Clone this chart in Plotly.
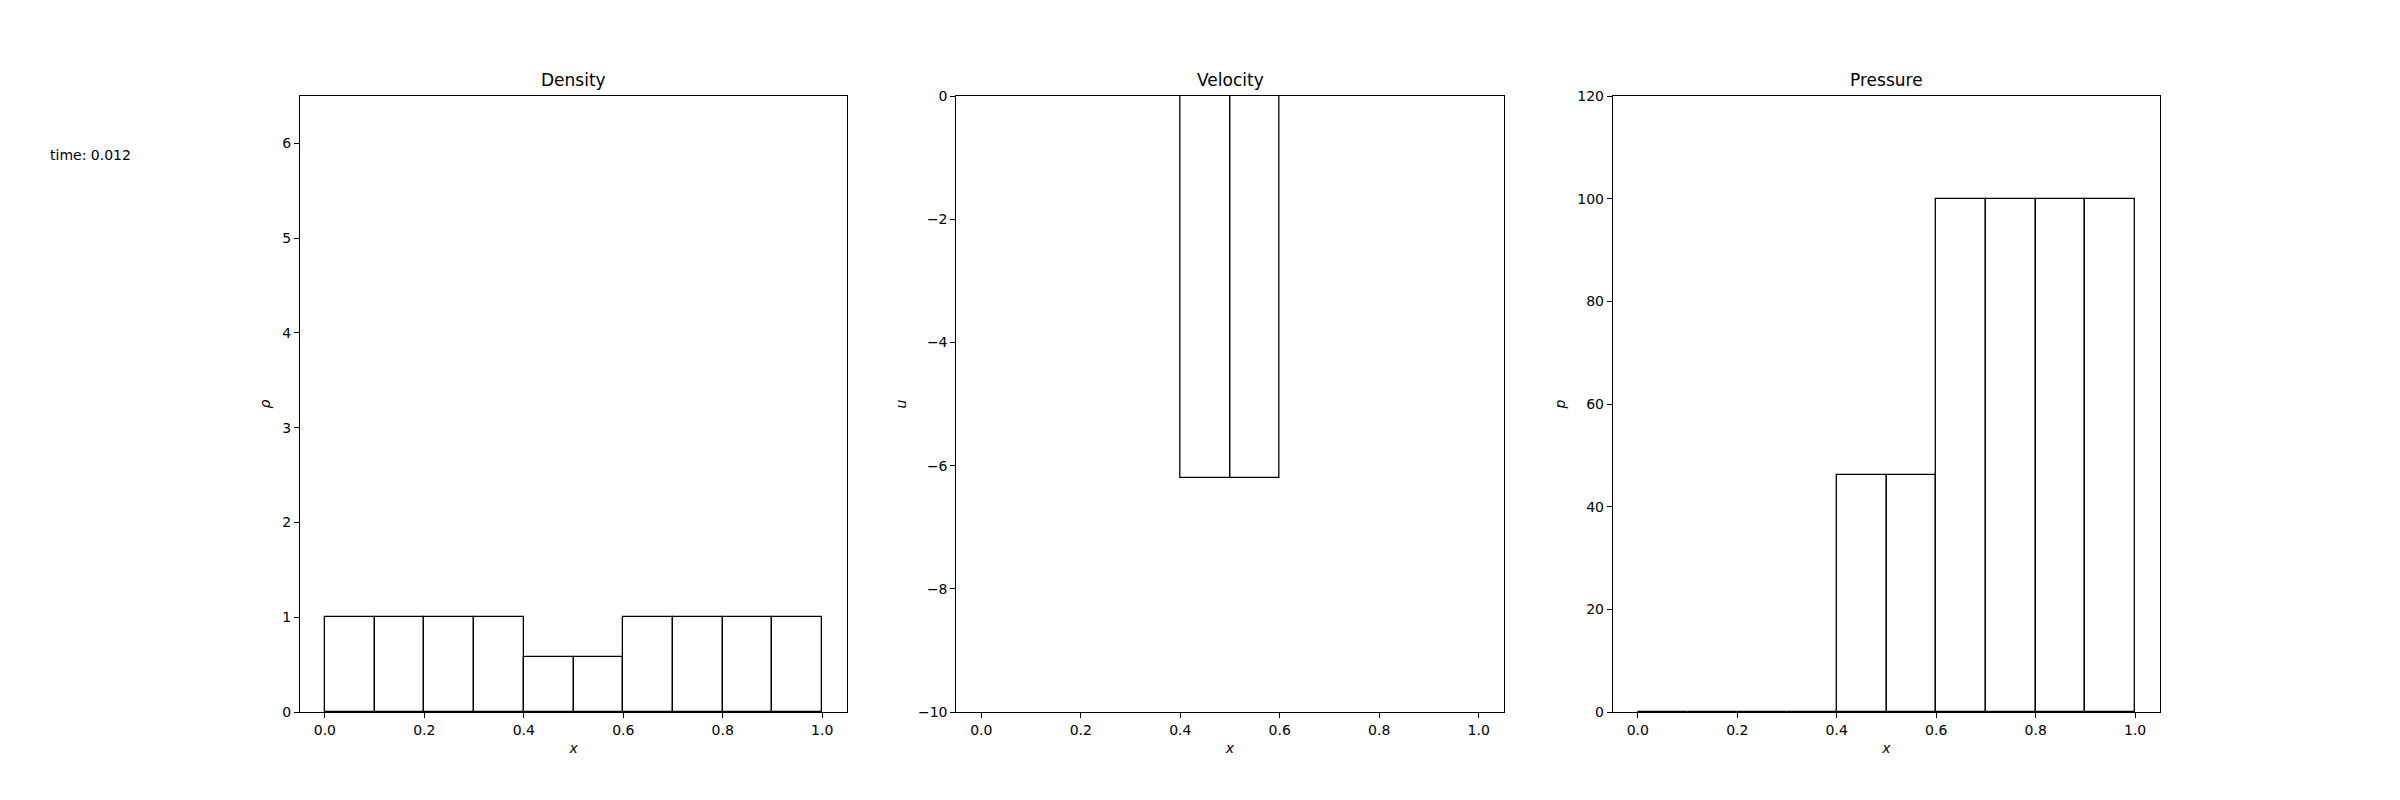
import plotly.graph_objects as go

# Data
x_centers = [0.05, 0.15, 0.25, 0.35, 0.45, 0.55, 0.65, 0.75, 0.85, 0.95]
bar_width = 0.1
density = [1.0, 1.0, 1.0, 1.0, 0.58, 0.58, 1.0, 1.0, 1.0, 1.0]
velocity = [0.0, 0.0, 0.0, 0.0, -6.2, -6.2, 0.0, 0.0, 0.0, 0.0]
pressure = [0.0, 0.0, 0.0, 0.0, 46.2, 46.2, 100.0, 100.0, 100.0, 100.0]
titles = ["Density", "Velocity", "Pressure"]
ylabels = ["ρ", "u", "p"]
yranges = [[0, 6.5], [-10, 0], [0, 120]]
ydticks = [1, 2, 20]
time_label = "time: 0.012"

FONT = "DejaVu Sans"
domains = [[0.125, 0.35294], [0.39853, 0.62647], [0.67206, 0.9]]
ydom = [0.11, 0.88]

fig = go.Figure()
series = [density, velocity, pressure]
for i, vals in enumerate(series):
    sfx = "" if i == 0 else str(i + 1)
    fig.add_trace(go.Bar(
        x=x_centers, y=vals, width=[bar_width] * len(vals),
        marker=dict(color="white", line=dict(color="black", width=1.3)),
        xaxis="x" + sfx, yaxis="y" + sfx, showlegend=False,
    ))

layout = dict(
    width=2400, height=800,
    paper_bgcolor="white", plot_bgcolor="white",
    margin=dict(l=0, r=0, t=0, b=0),
    font=dict(family=FONT, size=14, color="black"),
    bargap=0,
    annotations=[],
)
for i in range(3):
    sfx = "" if i == 0 else str(i + 1)
    xa = dict(
        domain=domains[i], range=[-0.05, 1.05], anchor="y" + sfx,
        automargin=False,
        tickmode="linear", tick0=0, dtick=0.2, tickformat=".1f",
        showline=True, mirror=True, linecolor="black", linewidth=1.3,
        ticks="outside", ticklen=5, tickwidth=1, tickcolor="black",
        showgrid=False, zeroline=False,
        title=dict(text="<i>x</i>", font=dict(size=14), standoff=6),
        tickfont=dict(size=14),
    )
    ya = dict(
        domain=ydom, range=yranges[i], anchor="x" + sfx,
        automargin=False,
        tickmode="linear", tick0=0, dtick=ydticks[i],
        showline=True, mirror=True, linecolor="black", linewidth=1.3,
        ticks="outside", ticklen=5, tickwidth=1, tickcolor="black",
        showgrid=False, zeroline=False,
        title=dict(text="<i>" + ylabels[i] + "</i>", font=dict(size=14), standoff=8),
        tickfont=dict(size=14),
    )
    layout["xaxis" + sfx] = xa
    layout["yaxis" + sfx] = ya
    layout["annotations"].append(dict(
        text=titles[i], xref="paper", yref="paper",
        x=(domains[i][0] + domains[i][1]) / 2, y=0.88, yshift=4,
        xanchor="center", yanchor="bottom", showarrow=False,
        font=dict(size=17, color="black"),
    ))

layout["annotations"].append(dict(
    text=time_label, xref="paper", yref="paper", x=0.02, y=0.806,
    xanchor="left", yanchor="middle", showarrow=False,
    font=dict(size=14, color="black"),
))

fig.update_layout(**layout)
fig.write_html(
    "out.html",
    config={"displayModeBar": False},
    post_script="document.body.style.margin='0';document.body.style.padding='0';",
)
